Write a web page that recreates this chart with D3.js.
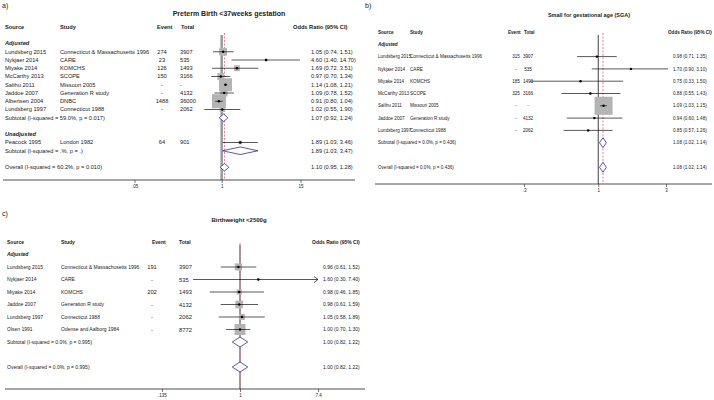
<!DOCTYPE html>
<html>
<head>
<meta charset="utf-8">
<script src="https://cdn.jsdelivr.net/npm/d3@7"></script>
<style>
body { margin: 0; background: #fff; }
text { font-family: "Liberation Sans", Arial, sans-serif; fill: #222; }
</style>
</head>
<body>
<div id="chart"></div>
<script>
// ---- panel a: preterm birth ----
const aSource = ["Lundsberg  2015", "Nykjaer 2014", "Miyake 2014", "McCarthy 2013", "Salihu 2011", "Jaddoe 2007", "Albertsen 2004", "Lundsberg  1997"];
const aStudy = ["Connecticut & Massachusetts 1996", "CARE", "KOMCHS", "SCOPE", "Missouri 2005", "Generation R study", "DNBC", "Connecticut 1988"];
const aEvent = ["274", "23", "126", "150", "-", "-", "1488", "-"];
const aTotal = ["3907", "535", "1493", "3166", "-", "4132", "36000", "2062"];
const aOR = [1.05, 4.60, 1.69, 0.97, 1.14, 1.09, 0.91, 1.02];
const aLo = [0.74, 1.40, 0.72, 0.70, 1.08, 0.78, 0.80, 0.55];
const aHi = [1.51, 14.70, 3.51, 1.34, 1.21, 1.52, 1.04, 1.90];
const aWeight = [9, 1, 5, 7, 25, 7, 29, 4];
const aUnSource = ["Peacock 1995"];
const aUnStudy = ["London 1982"];
const aUnEvent = ["64"];
const aUnTotal = ["901"];
const aUnOR = [1.89];
const aUnLo = [1.03];
const aUnHi = [3.46];
const aUnWeight = [2];
const aSumLabel = ["Subtotal  (I-squared = 59.0%, p = 0.017)", "Subtotal  (I-squared = .%, p = .)", "Overall  (I-squared = 60.2%, p = 0.010)"];
const aSumOR = [1.07, 1.89, 1.10];
const aSumLo = [0.92, 1.03, 0.95];
const aSumHi = [1.24, 3.47, 1.28];
const aTicks = [0.05, 1, 15];
const aTickLabels = [".05", "1", "15"];

// ---- panel b: small for gestational age ----
const bSource = ["Lundsberg 2015", "Nykjaer 2014", "Miyake 2014", "McCarthy 2013", "Salihu 2011", "Jaddoe 2007", "Lundsberg 1997"];
const bStudy = ["Connecticut & Massachusetts 1996", "CARE", "KOMCHS", "SCOPE", "Missouri 2005", "Generation R study", "Connecticut 1988"];
const bEvent = ["315", "-", "185", "325", "-", "-", "-"];
const bTotal = ["3907", "535", "1493", "3166", "-", "4132", "2062"];
const bOR = [0.98, 1.70, 0.75, 0.88, 1.09, 0.94, 0.85];
const bLo = [0.71, 0.90, 0.33, 0.55, 1.03, 0.60, 0.57];
const bHi = [1.35, 3.10, 1.50, 1.43, 1.15, 1.48, 1.26];
const bWeight = [2, 0.5, 0.3, 1.5, 94, 1, 1.5];
const bSumLabel = ["Subtotal  (I-squared = 0.0%, p = 0.436)", "Overall  (I-squared = 0.0%, p = 0.436)"];
const bSumOR = [1.08, 1.08];
const bSumLo = [1.02, 1.02];
const bSumHi = [1.14, 1.14];
const bTicks = [0.3, 1, 3];
const bTickLabels = [".3", "1", "3"];

// ---- panel c: birthweight <2500g ----
const cSource = ["Lundsberg  2015", "Nykjaer 2014", "Miyake 2014", "Jaddoe 2007", "Lundsberg  1997", "Olsen 1991"];
const cStudy = ["Connecticut & Massachusetts 1996", "CARE", "KOMCHS", "Generation R study", "Connecticut 1988", "Odense and Aalborg 1984"];
const cEvent = ["191", "-", "202", "-", "-", "-"];
const cTotal = ["3907", "535", "1493", "4132", "2062", "8772"];
const cOR = [0.96, 1.60, 0.98, 0.98, 1.05, 1.00];
const cLo = [0.61, 0.30, 0.46, 0.61, 0.58, 0.70];
const cHi = [1.52, 7.40, 1.85, 1.59, 1.89, 1.30];
const cWeight = [16, 1, 8, 18, 11, 37];
const cSumLabel = ["Subtotal  (I-squared = 0.0%, p = 0.995)", "Overall  (I-squared = 0.0%, p = 0.995)"];
const cSumOR = [1.00, 1.00];
const cSumLo = [0.82, 0.82];
const cSumHi = [1.22, 1.22];
const cTicks = [0.135, 1, 7.4];
const cTickLabels = [".135", "1", "7.4"];

const fmt = d3.format(".2f");
const ciText = (o, l, h) => fmt(o) + " (" + fmt(l) + ", " + fmt(h) + ")";

const svg = d3.select("#chart").append("svg")
    .attr("width", 714)
    .attr("height", 400);

function studies(src, st, ev, tot, or, lo, hi, w) {
    return src.map((s, i) => ({type: "study", source: s, study: st[i], event: ev[i], total: tot[i], or: or[i], lo: lo[i], hi: hi[i], w: w[i]}));
}
function summary(lab, or, lo, hi, i) {
    return {type: "sum", label: lab[i], or: or[i], lo: lo[i], hi: hi[i]};
}

function drawPanel(p) {
    var g = svg.append("g");
    var x = d3.scaleLog().domain(p.domain).range(p.range);
    var y = d3.scaleLinear().domain([0, 1]).range([p.y0, p.y0 + p.step]);
    var box = d3.scaleSqrt().domain([0, d3.max(p.rows.filter(r => r.type == "study"), r => r.w)]).range([0, p.maxBox]);

    g.append("text").attr("x", p.tag[0]).attr("y", p.tag[1]).style("font-size", "7px").text(p.tagText);
    g.append("text").attr("x", p.titleX).attr("y", p.titleY).attr("text-anchor", "middle")
        .style("font-size", p.titleSize + "px").style("font-weight", "bold").text(p.title);

    // header
    var hy = y(0);
    [["Source", p.cols.source], ["Study", p.cols.study], ["Event", p.cols.eventHead],
     ["Total", p.cols.totalHead], ["Odds Ratio (95% CI)", p.cols.orHead]].forEach(h => {
        g.append("text").attr("x", h[1]).attr("y", hy).attr("dy", "0.35em")
            .style("font-size", p.font + "px").style("font-weight", "bold").text(h[0]);
    });

    var bottom = p.axisY;
    // null line and overall line
    g.append("line").attr("x1", x(1)).attr("x2", x(1)).attr("y1", p.lineTop).attr("y2", bottom)
        .attr("stroke", p.nullColor).attr("stroke-width", p.nullWidth);
    var overall = p.rows.filter(r => r.type == "sum").slice(-1)[0];
    g.append("line").attr("x1", x(overall.or)).attr("x2", x(overall.or)).attr("y1", p.lineTop - 2).attr("y2", bottom)
        .attr("stroke", "#d9607a").attr("stroke-width", 0.8).attr("stroke-dasharray", "2,1.5");

    p.rows.forEach(r => {
        var yy = y(r.row);
        if (r.type == "group") {
            g.append("text").attr("x", p.cols.source).attr("y", yy).attr("dy", "0.35em")
                .style("font-size", p.font + "px").style("font-weight", "bold").style("font-style", "italic").text(r.label);
            return;
        }
        if (r.type == "study") {
            g.append("text").attr("x", p.cols.source).attr("y", yy).attr("dy", "0.35em").style("font-size", p.font + "px").text(r.source);
            g.append("text").attr("x", p.cols.study).attr("y", yy).attr("dy", "0.35em").style("font-size", p.font + "px").text(r.study);
            g.append("text").attr("x", p.cols.event).attr("y", yy).attr("dy", "0.35em").attr("text-anchor", "middle")
                .style("font-size", p.numFont + "px").text(r.event);
            g.append("text").attr("x", p.cols.total).attr("y", yy).attr("dy", "0.35em").attr("text-anchor", p.cols.totalAnchor)
                .style("font-size", p.numFont + "px").text(r.total);
            var s = box(r.w);
            g.append("rect").attr("x", x(r.or) - s / 2).attr("y", yy - s / 2).attr("width", s).attr("height", s)
                .attr("fill", "#b4b4b4");
            var clipped = p.clip && r.hi >= p.clip;
            var hiX = clipped ? x(p.clip) : x(r.hi);
            g.append("line").attr("x1", x(r.lo)).attr("x2", hiX).attr("y1", yy).attr("y2", yy)
                .attr("stroke", "#111").attr("stroke-width", 0.7);
            if (clipped) {
                g.append("path").attr("d", "M" + (hiX - 4) + "," + (yy - 3) + "L" + hiX + "," + yy + "L" + (hiX - 4) + "," + (yy + 3))
                    .attr("fill", "none").attr("stroke", "#111").attr("stroke-width", 0.7);
            }
            g.append("circle").attr("cx", x(r.or)).attr("cy", yy).attr("r", 1.2).attr("fill", "#000");
        } else {
            g.append("text").attr("x", p.cols.source).attr("y", yy).attr("dy", "0.35em").style("font-size", p.font + "px").text(r.label);
            var hh = p.diamond;
            g.append("path")
                .attr("d", "M" + x(r.lo) + "," + yy + "L" + x(r.or) + "," + (yy - hh) + "L" + x(r.hi) + "," + yy + "L" + x(r.or) + "," + (yy + hh) + "Z")
                .attr("fill", "#fff").attr("stroke", "#2e2e8a").attr("stroke-width", 0.8);
        }
        g.append("text").attr("x", p.cols.or).attr("y", yy).attr("dy", "0.35em").style("font-size", p.font + "px")
            .text(ciText(r.or, r.lo, r.hi));
    });

    // axis
    g.append("line").attr("x1", p.axisX[0]).attr("x2", p.axisX[1]).attr("y1", bottom).attr("y2", bottom)
        .attr("stroke", "#222").attr("stroke-width", 0.8);
    var ax = g.append("g").attr("transform", "translate(0," + bottom + ")")
        .call(d3.axisBottom(x).tickValues(p.ticks).tickFormat((d, i) => p.tickLabels[i]).tickSize(3).tickPadding(1.5));
    ax.select(".domain").remove();
    ax.selectAll("text").style("font-size", "4.5px").style("fill", "#222");
    ax.selectAll("line").attr("stroke", "#222").attr("stroke-width", 0.6);
}

// panel a rows
var aRows = [{type: "group", label: "Adjusted", row: 2}];
studies(aSource, aStudy, aEvent, aTotal, aOR, aLo, aHi, aWeight).forEach((d, i) => { d.row = 3 + i; aRows.push(d); });
aRows.push(Object.assign(summary(aSumLabel, aSumOR, aSumLo, aSumHi, 0), {row: 11}));
aRows.push({type: "group", label: "Unadjusted", row: 13});
studies(aUnSource, aUnStudy, aUnEvent, aUnTotal, aUnOR, aUnLo, aUnHi, aUnWeight).forEach(d => { d.row = 14; aRows.push(d); });
aRows.push(Object.assign(summary(aSumLabel, aSumOR, aSumLo, aSumHi, 1), {row: 15}));
aRows.push(Object.assign(summary(aSumLabel, aSumOR, aSumLo, aSumHi, 2), {row: 17}));

drawPanel({
    rows: aRows, tag: [2, 8], tagText: "a)", title: "Preterm Birth <37weeks gestation", titleX: 229, titleY: 16, titleSize: 7,
    font: 5.7, numFont: 5.7, y0: 27, step: 8.25, maxBox: 14,
    cols: {source: 5, study: 60, eventHead: 157, event: 162, totalHead: 181, total: 180, totalAnchor: "start", orHead: 293, or: 311},
    domain: [0.05, 15], range: [134.5, 300.5], ticks: aTicks, tickLabels: aTickLabels,
    axisY: 180, axisX: [3, 355], lineTop: 35, nullColor: "#9a9a9a", nullWidth: 2.5, diamond: 3.8
});

// panel b rows
var bRows = [{type: "group", label: "Adjusted", row: 1}];
studies(bSource, bStudy, bEvent, bTotal, bOR, bLo, bHi, bWeight).forEach((d, i) => { d.row = 2 + i; bRows.push(d); });
bRows.push(Object.assign(summary(bSumLabel, bSumOR, bSumLo, bSumHi, 0), {row: 9}));
bRows.push(Object.assign(summary(bSumLabel, bSumOR, bSumLo, bSumHi, 1), {row: 11}));

drawPanel({
    rows: bRows, tag: [365, 8], tagText: "b)", title: "Small for gestational age (SGA)", titleX: 589, titleY: 17, titleSize: 5.5,
    font: 4.6, numFont: 4.6, y0: 32, step: 12.3, maxBox: 18,
    cols: {source: 378, study: 410, eventHead: 508, event: 516, totalHead: 524, total: 528, totalAnchor: "middle", orHead: 668, or: 673},
    domain: [0.3, 3], range: [524, 666], ticks: bTicks, tickLabels: bTickLabels,
    axisY: 184, axisX: [375, 712], lineTop: 35, nullColor: "#111", nullWidth: 0.8, diamond: 5
});

// panel c rows
var cRows = [{type: "group", label: "Adjusted", row: 1}];
studies(cSource, cStudy, cEvent, cTotal, cOR, cLo, cHi, cWeight).forEach((d, i) => { d.row = 2 + i; cRows.push(d); });
cRows.push(Object.assign(summary(cSumLabel, cSumOR, cSumLo, cSumHi, 0), {row: 8}));
cRows.push(Object.assign(summary(cSumLabel, cSumOR, cSumLo, cSumHi, 1), {row: 10}));

drawPanel({
    rows: cRows, tag: [2, 216], tagText: "c)", title: "Birthweight <2500g", titleX: 239, titleY: 222, titleSize: 6,
    font: 5, numFont: 5.8, y0: 242, step: 12.5, maxBox: 11, clip: 7.4,
    cols: {source: 7, study: 61, eventHead: 152, event: 152, totalHead: 179, total: 179, totalAnchor: "start", orHead: 312, or: 323},
    domain: [1 / 7.4, 7.4], range: [162, 318], ticks: cTicks, tickLabels: cTickLabels,
    axisY: 389, axisX: [5, 365], lineTop: 245, nullColor: "#111", nullWidth: 0.8, diamond: 5
});
</script>
</body>
</html>
